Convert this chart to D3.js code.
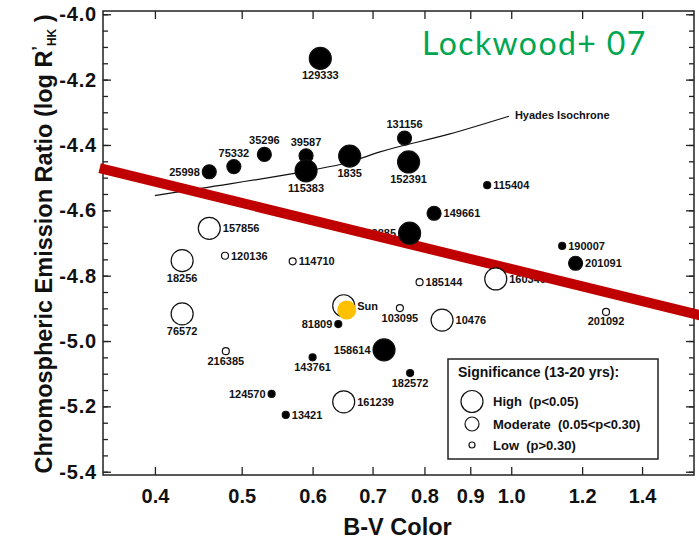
<!DOCTYPE html>
<html>
<head>
<meta charset="utf-8">
<script src="https://cdn.jsdelivr.net/npm/d3@7"></script>
<style>
  body { margin: 0; background: #fff; }
  svg { display: block; font-family: "Liberation Sans", Arial, Helvetica, sans-serif; }
  .tick text { font-weight: bold; }
</style>
</head>
<body>
<svg id="chart" width="699" height="541"></svg>
<script>
// star data
var starIds = ["129333", "25998", "75332", "35296", "39587", "115383", "1835", "131156", "152391",
	"115404", "149661", "82885", "190007", "201091", "185144", "160346", "157856", "120136",
	"114710", "18256", "76572", "Sun", "103095", "81809", "10476", "201092", "216385",
	"143761", "158614", "182572", "124570", "161239", "13421"];
var bvColor = [0.612, 0.460, 0.490, 0.530, 0.590, 0.590, 0.660, 0.760, 0.768,
	0.940, 0.820, 0.770, 1.140, 1.180, 0.790, 0.961, 0.460, 0.479,
	0.570, 0.429, 0.429, 0.650, 0.751, 0.641, 0.837, 1.276, 0.480,
	0.600, 0.721, 0.771, 0.540, 0.650, 0.560];
var logRhk = [-4.135, -4.482, -4.466, -4.429, -4.433, -4.479, -4.434, -4.379, -4.452,
	-4.523, -4.609, -4.670, -4.709, -4.762, -4.820, -4.810, -4.655, -4.739,
	-4.756, -4.754, -4.917, -4.892, -4.899, -4.948, -4.936, -4.911, -5.031,
	-5.050, -5.027, -5.098, -5.162, -5.186, -5.226];
var significance = ["high", "mod", "mod", "mod", "mod", "high", "high", "mod", "high",
	"low", "mod", "high", "low", "mod", "low", "high", "high", "low",
	"low", "high", "high", "high", "low", "low", "high", "low", "low",
	"low", "high", "low", "low", "high", "low"];
var filled = [1, 1, 1, 1, 1, 1, 1, 1, 1,
	1, 1, 1, 1, 1, 0, 0, 0, 0,
	0, 0, 0, 0, 0, 1, 0, 0, 0,
	1, 1, 1, 1, 0, 1];

var sunBV = [0.655];
var sunLogR = [-4.905];

// Hyades isochrone
var isoBV = [0.40, 0.452, 0.590, 0.659, 0.712, 0.852, 0.994];
var isoLogR = [-4.555, -4.532, -4.480, -4.453, -4.422, -4.367, -4.312];

// red trend line
var trendBV = [0.347, 1.63];
var trendLogR = [-4.471, -4.922];

var xTicks = [0.4, 0.5, 0.6, 0.7, 0.8, 0.9, 1.0, 1.2, 1.4];
var yTicks = [-4.0, -4.2, -4.4, -4.6, -4.8, -5.0, -5.2, -5.4];
var yMinor = d3.range(-5.40, -3.99, 0.05).map(function(d) { return +d.toFixed(2); });

var legendLabels = ["High  (p<0.05)", "Moderate  (0.05<p<0.30)", "Low  (p>0.30)"];
var legendKeys = ["high", "mod", "low"];

// label placement (layout only)
var labelSide = {
	"129333": "b", "25998": "l", "75332": "t", "35296": "t", "39587": "t", "115383": "b",
	"1835": "b", "131156": "t", "152391": "b", "115404": "r", "149661": "r", "82885": "l",
	"190007": "r", "201091": "r", "185144": "r", "160346": "r", "157856": "r", "120136": "r",
	"114710": "r", "18256": "b", "76572": "b", "Sun": "r", "103095": "b", "81809": "l",
	"10476": "r", "201092": "b", "216385": "b", "143761": "b", "158614": "l", "182572": "b",
	"124570": "l", "161239": "r", "13421": "r"
};
var radius = { high: 11, mod: 7, low: 3.5 };

var svg = d3.select('#chart');
var mLeft = 103, mRight = 694, mTop = 11, mBottom = 475;

var x = d3.scaleLog().domain([0.35, 1.6]).range([mLeft, mRight]);
var y = d3.scaleLinear().domain([-5.41, -3.99]).range([mBottom, mTop]);

var fmt = function(d) { return d3.format('.1f')(d).replace('\u2212', '-'); };

// axes, ticks inward
var gx = svg.append('g').attr('transform', 'translate(0,' + mBottom + ')')
	.call(d3.axisBottom(x).tickValues(xTicks).tickSize(-8).tickPadding(14).tickFormat(fmt));
var gxt = svg.append('g').attr('transform', 'translate(0,' + mTop + ')')
	.call(d3.axisTop(x).tickValues(xTicks).tickSize(-8).tickFormat(''));
var gy = svg.append('g').attr('transform', 'translate(' + mLeft + ',0)')
	.call(d3.axisLeft(y).tickValues(yTicks).tickSize(-8).tickPadding(6).tickFormat(fmt));
var gym = svg.append('g').attr('transform', 'translate(' + mLeft + ',0)')
	.call(d3.axisLeft(y).tickValues(yMinor).tickSize(-5).tickFormat(''));
var gyr = svg.append('g').attr('transform', 'translate(' + mRight + ',0)')
	.call(d3.axisRight(y).tickValues(yTicks).tickSize(-8).tickFormat(''));
var gyrm = svg.append('g').attr('transform', 'translate(' + mRight + ',0)')
	.call(d3.axisRight(y).tickValues(yMinor).tickSize(-5).tickFormat(''));

[gx, gxt, gy, gym, gyr, gyrm].forEach(function(g) {
	g.select('.domain').remove();
	g.selectAll('.tick line').attr('stroke', '#222').attr('stroke-width', 1.3);
	g.selectAll('.tick text').attr('fill', '#111').style('font-size', '20px')
		.style('font-family', '"Liberation Sans", Arial, sans-serif');
});
gy.selectAll('.tick text').style('letter-spacing', '0.8px');

svg.append('rect').attr('x', mLeft).attr('y', mTop)
	.attr('width', mRight - mLeft).attr('height', mBottom - mTop)
	.attr('fill', 'none').attr('stroke', '#222').attr('stroke-width', 1.5);

// axis titles
svg.append('text').attr('x', (mLeft + mRight) / 2 - 1).attr('y', 535)
	.attr('text-anchor', 'middle').style('font-size', '23.5px').style('font-weight', 'bold')
	.attr('fill', '#111').text('B-V Color');

var yt = svg.append('text').attr('transform', 'translate(52,244) rotate(-90)')
	.attr('text-anchor', 'middle').style('font-size', '23.5px').style('font-weight', 'bold')
	.attr('fill', '#111');
yt.append('tspan').text('Chromospheric Emission Ratio (log R');
yt.append('tspan').attr('dy', -8).style('font-size', '16px').text('\u2019');
yt.append('tspan').attr('dy', 12).style('font-size', '12px').text('HK');
yt.append('tspan').attr('dy', -4).text(' )');

// Hyades isochrone
var iso = isoBV.map(function(d, i) { return [x(d), y(isoLogR[i])]; });
svg.append('path').attr('d', d3.line().curve(d3.curveMonotoneX)(iso))
	.attr('fill', 'none').attr('stroke', '#111').attr('stroke-width', 1.2);
svg.append('text').attr('x', iso[iso.length - 1][0] + 6).attr('y', iso[iso.length - 1][1] + 3)
	.style('font-size', '11px').style('font-weight', 'bold').attr('fill', '#111')
	.text('Hyades Isochrone');

// star labels
var stars = starIds.map(function(id, i) {
	return { id: id, bv: bvColor[i], r: logRhk[i], sig: significance[i], filled: filled[i] };
});

svg.append('g').selectAll('text').data(stars).enter().append('text')
	.style('font-size', '11px').style('font-weight', 'bold').attr('fill', '#111')
	.each(function(d) {
		var cx = x(d.bv), cy = y(d.r), rr = radius[d.sig];
		var side = labelSide[d.id];
		var t = d3.select(this).text(d.id);
		if (side === 'r') t.attr('x', cx + rr + 2.5).attr('y', cy + 4).attr('text-anchor', 'start');
		else if (side === 'l') t.attr('x', cx - rr - 2.5).attr('y', cy + 4).attr('text-anchor', 'end');
		else if (side === 't') t.attr('x', cx).attr('y', cy - rr - 3).attr('text-anchor', 'middle');
		else t.attr('x', cx).attr('y', cy + rr + 10).attr('text-anchor', 'middle');
	});

// red trend line
svg.append('line')
	.attr('x1', x(trendBV[0])).attr('y1', y(trendLogR[0]))
	.attr('x2', x(trendBV[1])).attr('y2', y(trendLogR[1]))
	.attr('stroke', '#c00000').attr('stroke-width', 10);

// star circles
svg.append('g').selectAll('circle').data(stars).enter().append('circle')
	.attr('cx', function(d) { return x(d.bv); })
	.attr('cy', function(d) { return y(d.r); })
	.attr('r', function(d) { return radius[d.sig]; })
	.attr('fill', function(d) { return d.filled ? '#000' : '#fff'; })
	.attr('stroke', '#111').attr('stroke-width', 1.2);

svg.append('g').selectAll('circle').data(sunBV).enter().append('circle')
	.attr('cx', function(d) { return x(d); })
	.attr('cy', function(d, i) { return y(sunLogR[i]); })
	.attr('r', 9.5).attr('fill', '#ffc000');

// legend
var lg = svg.append('g').attr('transform', 'translate(448,359)');
lg.append('rect').attr('width', 210).attr('height', 100)
	.attr('fill', '#fff').attr('stroke', '#222').attr('stroke-width', 1.5);
lg.append('text').attr('x', 10).attr('y', 18).style('font-size', '14px')
	.style('font-weight', 'bold').attr('fill', '#111').text('Significance (13-20 yrs):');
legendKeys.forEach(function(k, i) {
	var cy = [42.5, 65, 86][i];
	lg.append('circle').attr('cx', 24).attr('cy', cy).attr('r', radius[k] + (k === 'low' ? -0.5 : 0))
		.attr('fill', '#fff').attr('stroke', '#111').attr('stroke-width', 1.2);
	lg.append('text').attr('x', 45).attr('y', cy + 4.5).style('font-size', '13px')
		.style('font-weight', 'bold').attr('fill', '#111').style('white-space', 'pre')
		.text(legendLabels[i]);
});

// annotation
svg.append('text').attr('x', 422).attr('y', 55)
	.style('font-family', 'Lato, "Open Sans", sans-serif').style('font-size', '32px')
	.style('letter-spacing', '1.4px')
	.attr('fill', '#00a651').text('Lockwood+ 07');
</script>
</body>
</html>
